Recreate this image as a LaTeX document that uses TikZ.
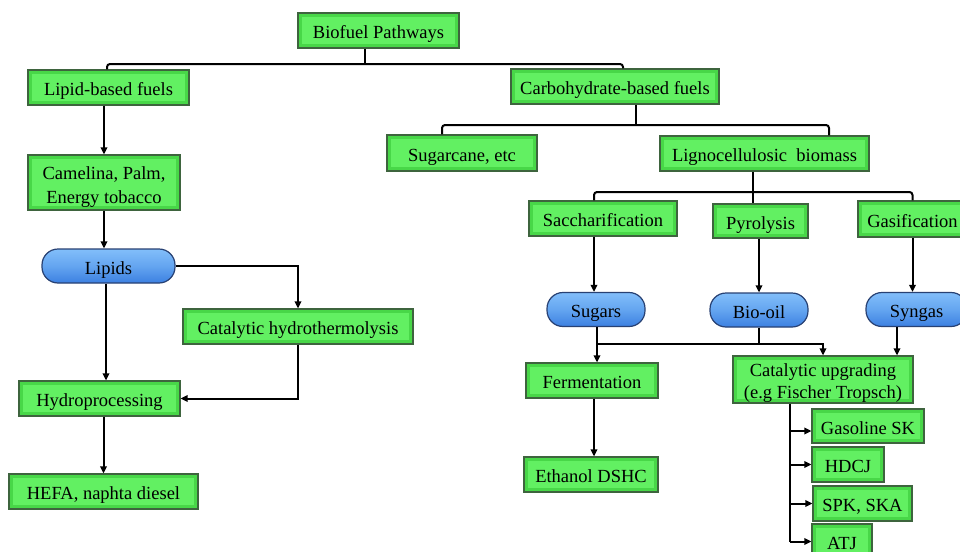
\documentclass[tikz,border=0pt]{standalone}
\usepackage{fontspec}
\setmainfont{Liberation Serif}
\usetikzlibrary{arrows.meta,calc}
\definecolor{gfill}{RGB}{72,215,72}
\definecolor{ginner}{RGB}{98,240,98}
\definecolor{gborder}{RGB}{62,100,62}
\definecolor{btop}{RGB}{130,190,250}
\definecolor{bbot}{RGB}{60,128,225}
\definecolor{bborder}{RGB}{40,65,115}
\tikzset{
  gbox/.style={draw=gborder, line width=1.2pt, fill=gfill, minimum width=#1, inner sep=0pt,
    path picture={\fill[ginner] ([shift={(4pt,-4pt)}]path picture bounding box.north west) rectangle ([shift={(-4pt,4pt)}]path picture bounding box.south east);},
    font=\fontsize{18.5}{22}\selectfont, align=center, text=black, text height=16pt, text depth=0pt},
  pill/.style={draw=bborder, line width=1.2pt, top color=btop, bottom color=bbot, middle color={rgb,255:red,100;green,165;blue,240},
    rounded corners=16pt, minimum width=#1, minimum height=34pt, inner sep=0pt,
    font=\fontsize{18.5}{22}\selectfont, text=black, text height=16pt, text depth=0pt},
  line/.style={draw=black, line width=2pt},
  tree/.style={line, rounded corners=3pt},
  arr/.style={line, -{Triangle[length=7pt,width=6.5pt]}},
}
\begin{document}
\begin{tikzpicture}[x=1pt,y=-1pt]
\useasboundingbox (0,0) rectangle (960,551);
\fill[white] (0,0) rectangle (960,551);
\clip (0,0) rectangle (960,551);
% nodes
\node[gbox=161pt, minimum height=35pt] (bp) at (378.5,30.5) {Biofuel Pathways};
\node[gbox=161pt, minimum height=35pt] (lbf) at (108.5,87.5) {Lipid-based fuels};
\node[gbox=152pt, minimum height=55pt, text height=41pt, text depth=0pt, font=\fontsize{18.5}{24}\selectfont] (cam) at (104,182.5) {Camelina, Palm,\\Energy tobacco};
\node[pill=133pt] (lip) at (108.5,266) {Lipids};
\node[gbox=230pt, minimum height=35pt] (cht) at (298,326.5) {Catalytic hydrothermolysis};
\node[gbox=161pt, minimum height=35pt] (hyd) at (99.5,398.5) {Hydroprocessing};
\node[gbox=189pt, minimum height=35pt] (hefa) at (103.5,491.5) {HEFA, naphta diesel};
\node[gbox=150pt, minimum height=36pt] (sgc) at (462,153) {Sugarcane, etc};
\node[gbox=208pt, minimum height=35pt] (cbf) at (615,86.5) {Carbohydrate-based fuels};
\node[gbox=209pt, minimum height=35pt] (lig) at (764.5,153.5) {Lignocellulosic\ \ biomass};
\node[gbox=148pt, minimum height=35pt] (sac) at (603,218.5) {Saccharification};
\node[gbox=95pt, minimum height=34pt] (pyr) at (760.5,221) {Pyrolysis};
\node[gbox=109pt, minimum height=36pt] (gas) at (912.5,219) {Gasification};
\node[pill=98pt] (sgr) at (596,309.5) {Sugars};
\node[pill=98pt] (bio) at (759,310) {Bio-oil};
\node[pill=101pt] (syn) at (916.5,309.5) {Syngas};
\node[gbox=132pt, minimum height=35pt] (fer) at (592,380.5) {Fermentation};
\node[gbox=134pt, minimum height=35pt] (eth) at (591,474.5) {Ethanol DSHC};
\node[gbox=180pt, minimum height=47pt, text height=37pt, text depth=0pt] (cu) at (823,379.5) {Catalytic upgrading\\(e.g Fischer Tropsch)};
\node[gbox=112pt, minimum height=34pt] (gsk) at (868,426) {Gasoline SK};
\node[gbox=72pt, minimum height=35pt] (hdcj) at (848,464.5) {HDCJ};
\node[gbox=99pt, minimum height=35pt] (spk) at (862.5,503.5) {SPK, SKA};
\node[gbox=60pt, minimum height=35pt] (atj) at (842,541.5) {ATJ};
% top tree
\coordinate (b0) at ([xshift=-13.5pt]bp.south);
\draw[line] (b0) -- (b0 |- 0,64);
\draw[tree] ([xshift=-1.5pt]lbf.north) |- (b0 |- 0,64) -| ([xshift=8pt]cbf.north);
% carbohydrate tree
\coordinate (c0) at ([xshift=21pt]cbf.south);
\draw[line] (c0) -- (c0 |- 0,125);
\draw[tree] ([xshift=-20pt]sgc.north) |- (c0 |- 0,125) -| ([xshift=64.5pt]lig.north);
% lignocellulosic tree
\coordinate (l0) at ([xshift=-11.5pt]lig.south);
\draw[line] (l0) -- (l0 |- pyr.north);
\draw[tree] ([xshift=-9pt]sac.north) |- (l0 |- 0,192) -| (gas.north);
% lipid branch
\draw[arr] (lbf.south -| cam.north) -- (cam.north);
\draw[arr] (cam.south) -- (cam.south |- lip.north);
\draw[arr] (lip.east) -| (cht.north);
\draw[arr] ([xshift=-2.5pt]lip.south) -- ([xshift=-2.5pt]lip.south |- hyd.north);
\draw[arr] (cht.south) |- (hyd.east);
\draw[arr] (hefa.north |- hyd.south) -- (hefa.north);
% lignocellulosic branches
\draw[arr] ([xshift=-9pt]sac.south) -- ([xshift=-9pt]sac.south |- sgr.north);
\draw[arr] (bio.north |- pyr.south) -- (bio.north);
\draw[arr] (gas.south) -- (gas.south |- syn.north);
\coordinate (j1) at ([xshift=1pt]sgr.south |- 0,344);
\draw[line] ([xshift=1pt]sgr.south) -- (j1);
\draw[arr] (j1) -| (cu.north);
\draw[arr] (j1) -- (j1 |- fer.north);
\draw[line] (bio.south) -- (bio.south |- j1);
\draw[arr] ([xshift=-19.5pt]syn.south) -- ([xshift=-19.5pt]syn.south |- cu.north);
\draw[arr] ([xshift=2pt]fer.south) -- ([xshift=2pt]fer.south |- eth.north);
% products
\coordinate (t0) at ([xshift=-33pt]cu.south);
\draw[line] (t0) -- (t0 |- atj.west);
\foreach \n/\dy in {gsk/5,hdcj/0,spk/0,atj/0}
  \draw[arr] ([yshift=-\dy pt]t0 |- \n.west) -- ([yshift=-\dy pt]\n.west);
\end{tikzpicture}
\end{document}
